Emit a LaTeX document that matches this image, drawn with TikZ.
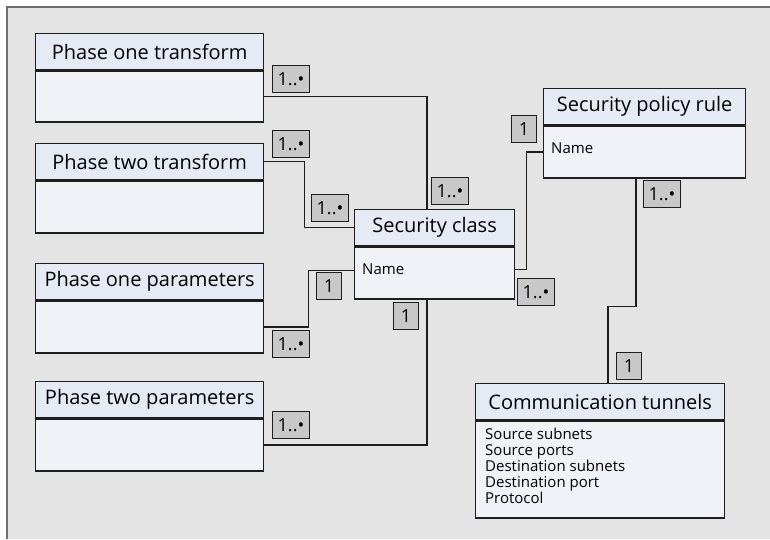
\documentclass[tikz,border=0pt]{standalone}
\usepackage{fontspec}
\setmainfont{Open Sans}
\usetikzlibrary{calc}

\definecolor{panel}{HTML}{E4E4E4}
\definecolor{framecol}{HTML}{6E6E6E}
\definecolor{edge}{HTML}{1E1E1E}
\definecolor{hdrfill}{HTML}{E6EAF5}
\definecolor{bdyfill}{HTML}{F0F2F8}
\definecolor{multfill}{HTML}{C8C8C8}

\tikzset{
  hdr/.style={draw=edge, fill=hdrfill, line width=1.3pt, minimum height=36pt,
    inner sep=0pt, anchor=north west, font=\fontsize{20}{22}\selectfont},
  bdy/.style={draw=edge, fill=bdyfill, line width=1.3pt, inner sep=0pt,
    anchor=north west},
  attr/.style={inner sep=0pt, anchor=west, font=\fontsize{15}{16}\selectfont},
  mult/.style={draw=edge, fill=multfill, line width=1pt, inner sep=0pt,
    minimum height=27pt, anchor=north west, font=\fontsize{18}{20}\selectfont},
  many/.style={mult, minimum width=37pt},
  one/.style={mult, minimum width=25pt},
  link/.style={draw=edge, line width=1.2pt},
}

\begin{document}
\begin{tikzpicture}[x=1pt, y=-1pt]
\useasboundingbox (0,0) rectangle (770,539);

% grey panel with its left and top rule
\fill[panel] (7,7) rectangle (770,539);
\draw[framecol, line width=2pt] (7,539) -- (7,7) -- (770,7);

% class boxes: a title part and a body part
\node[hdr, minimum width=228pt] (p1t) at (35,33) {Phase one transform};
\node[bdy, minimum width=228pt, minimum height=51pt] (p1tb) at (p1t.south west) {};

\node[hdr, minimum width=228pt] (p2t) at (35,143) {Phase two transform};
\node[bdy, minimum width=228pt, minimum height=52pt] (p2tb) at (p2t.south west) {};

\node[hdr, minimum width=228pt] (p1p) at (35,263) {Phase one parameters};
\node[bdy, minimum width=228pt, minimum height=52pt] (p1pb) at (p1p.south west) {};

\node[hdr, minimum width=228pt] (p2p) at (35,381) {Phase two parameters};
\node[bdy, minimum width=228pt, minimum height=52pt] (p2pb) at (p2p.south west) {};

\node[hdr, minimum width=160pt] (sc) at (354,209) {Security class};
\node[bdy, minimum width=160pt, minimum height=52pt] (scb) at (sc.south west) {};
\node[attr] (scname) at ($(scb.north west)+(8,23)$) {Name};

\node[hdr, minimum width=202pt] (spr) at (543,88) {Security policy rule};
\node[bdy, minimum width=202pt, minimum height=52pt] (sprb) at (spr.south west) {};
\node[attr] (sprname) at ($(sprb.north west)+(8,23)$) {Name};

\node[hdr, minimum width=249pt] (ct) at (475,383) {Communication tunnels};
\node[bdy, minimum width=249pt, minimum height=97pt] (ctb) at (ct.south west) {};
\node[attr, anchor=north west, align=left]
  (ctlist) at ($(ctb.north west)+(10,8)$)
  {Source subnets\\Source ports\\Destination subnets\\Destination port\\Protocol};

% attachment points on the box borders
\coordinate (scN)  at ($(sc.north west)+(73,0)$);
\coordinate (scS)  at ($(scb.south west)+(73,0)$);
\coordinate (scL)  at ($(scb.north west)+(0,24)$);
\coordinate (scR)  at ($(scb.north east)+(0,23)$);
\coordinate (sprS) at ($(sprb.south west)+(93,0)$);
\coordinate (ctN)  at ($(ct.north west)+(133,0)$);

% associations
\draw[link] (p1tb.east) -| (scN);
\draw[link] (p2t.east) -- ++(40,0) |- (sc.west);
\draw[link] (p1pb.east) -- ++(44,0) |- (scL);
\draw[link] (p2pb.east) -| (scS);
\draw[link] (scR) -- ++(11,0) |- (sprb.west);
\draw[link] (sprS) -- ++(0,128) -| (ctN);

% multiplicities
\node[many] (m1)  at (272,65)  {1..\textbullet};
\node[many] (m2)  at (431,177) {1..\textbullet};
\node[many] (m3)  at (272,130) {1..\textbullet};
\node[many] (m4)  at (311,194) {1..\textbullet};
\node[one]  (m5)  at (316,272) {1};
\node[many] (m6)  at (272,330) {1..\textbullet};
\node[one]  (m7)  at (393,302) {1};
\node[many] (m8)  at (272,411) {1..\textbullet};
\node[one]  (m9)  at (511,115) {1};
\node[many] (m10) at (517,278) {1..\textbullet};
\node[many] (m11) at (643,180) {1..\textbullet};
\node[one]  (m12) at (616,352) {1};
\end{tikzpicture}
\end{document}
